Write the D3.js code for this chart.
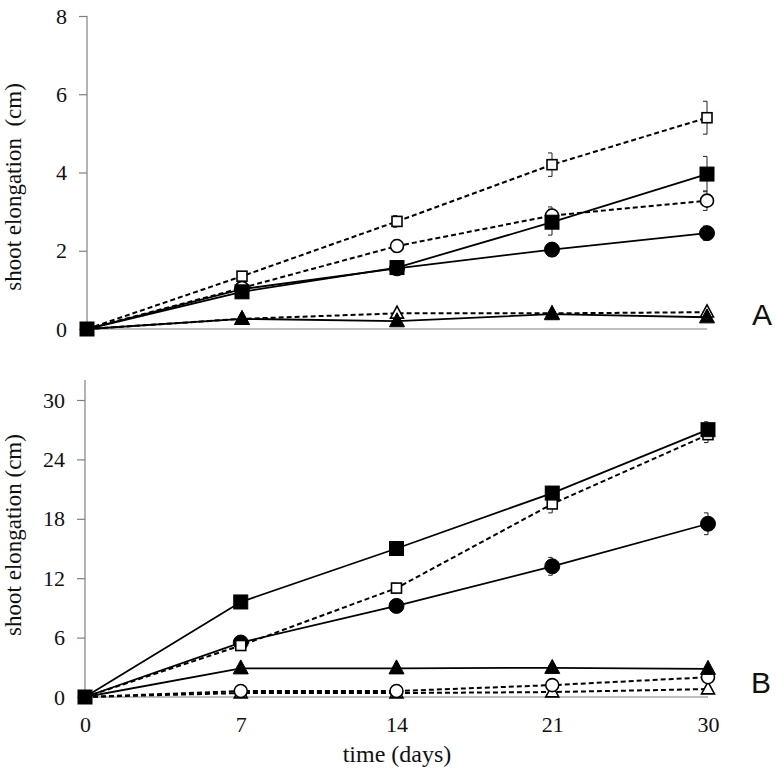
<!DOCTYPE html>
<html><head><meta charset="utf-8">
<script src="https://cdn.jsdelivr.net/npm/d3@7"></script>
<style>body{margin:0;background:#fff}svg{display:block}</style>
</head><body>
<script>
// ---- data ----
const days = ["0","7","14","21","30"];
const ticksA = [0,2,4,6,8];
const ticksB = [0,6,12,18,24,30];

// Panel A
const A_openSquare     = [0,1.35,2.75,4.2,5.4];
const A_openSquareErr  = [0,0.06,0.15,0.3,0.42];
const A_filledSquare   = [0,0.95,1.57,2.73,3.96];
const A_filledSquareErr= [0,0.06,0.15,0.33,0.45];
const A_openCircle     = [0,1.05,2.12,2.9,3.28];
const A_openCircleErr  = [0,0.05,0.15,0.22,0.25];
const A_filledCircle   = [0,1.02,1.55,2.03,2.45];
const A_filledCircleErr= [0,0.05,0.12,0.15,0.18];
const A_filledTriangle = [0,0.26,0.2,0.38,0.3];
const A_openTriangle   = [0,0.26,0.4,0.4,0.43];

// Panel B
const B_filledSquare   = [0,9.6,15.0,20.6,27.0];
const B_filledSquareErr= [0,0.3,0.4,0.5,0.8];
const B_openSquare     = [0,5.2,11.0,19.5,26.5];
const B_openSquareErr  = [0,0.3,0.5,0.9,0.8];
const B_filledCircle   = [0,5.5,9.2,13.2,17.5];
const B_filledCircleErr= [0,0.3,0.6,0.9,1.1];
const B_filledTriangle = [0,2.9,2.9,2.95,2.85];
const B_filledTriangleErr = [0,0.1,0.1,0.2,0.2];
const B_openCircle     = [0,0.6,0.6,1.2,2.0];
const B_openCircleErr  = [0,0.1,0.1,0.2,0.3];
const B_openTriangle   = [0,0.4,0.4,0.5,0.8];

const seriesA = [
  {v:A_openTriangle, e:null, shape:"triangle", filled:false, dashed:true},
  {v:A_filledTriangle, e:null, shape:"triangle", filled:true, dashed:false},
  {v:A_filledCircle, e:A_filledCircleErr, shape:"circle", filled:true, dashed:false},
  {v:A_openCircle, e:A_openCircleErr, shape:"circle", filled:false, dashed:true},
  {v:A_filledSquare, e:A_filledSquareErr, shape:"square", filled:true, dashed:false},
  {v:A_openSquare, e:A_openSquareErr, shape:"square", filled:false, dashed:true}
];
const seriesB = [
  {v:B_openTriangle, e:null, shape:"triangle", filled:false, dashed:true},
  {v:B_openCircle, e:B_openCircleErr, shape:"circle", filled:false, dashed:true},
  {v:B_filledTriangle, e:B_filledTriangleErr, shape:"triangle", filled:true, dashed:false},
  {v:B_filledCircle, e:B_filledCircleErr, shape:"circle", filled:true, dashed:false},
  {v:B_openSquare, e:B_openSquareErr, shape:"square", filled:false, dashed:true},
  {v:B_filledSquare, e:B_filledSquareErr, shape:"square", filled:true, dashed:false}
];

const svg = d3.select("body").append("svg").attr("width",777).attr("height",778);
const serif = "'Liberation Serif','Times New Roman',serif";

function panel(cfg){
  const x = d3.scalePoint().domain(days).range(cfg.xr).padding(0);
  const y = d3.scaleLinear().domain(cfg.yd).range(cfg.yr);
  const g = svg.append("g");
  // x axis line
  g.append("line").attr("x1",cfg.xr[0]).attr("x2",cfg.xr[1])
    .attr("y1",y(0)).attr("y2",y(0)).attr("stroke","#808080").attr("stroke-width",1.2);
  // y axis
  const ya = g.append("g").attr("transform",`translate(${cfg.xr[0]},0)`)
    .call(d3.axisLeft(y).tickValues(cfg.ticks).tickSize(8).tickPadding(12).tickSizeOuter(0));
  ya.attr("font-family",null).attr("font-size",null);
  ya.select(".domain").remove();
  ya.append("line").attr("x1",0).attr("x2",0).attr("y1",cfg.top).attr("y2",y(0))
    .attr("stroke","#808080").attr("stroke-width",1.2);
  ya.selectAll(".tick line").attr("stroke","#808080").attr("stroke-width",1.2);
  ya.selectAll(".tick text").style("font-family",serif).style("font-size","22px").attr("fill","#111");
  if(cfg.xlabels){
    const xa = g.append("g").attr("transform",`translate(0,${y(0)})`)
      .call(d3.axisBottom(x).tickSize(0).tickPadding(19));
    xa.attr("font-family",null).attr("font-size",null);
    xa.select(".domain").remove();
    xa.selectAll(".tick text").style("font-family",serif).style("font-size","22px").attr("fill","#111");
  }
  // y label
  g.append("text").attr("transform",`translate(${cfg.ylx},${cfg.lyc}) rotate(-90)`)
    .attr("text-anchor","middle").style("font-family",serif).style("font-size","23px")
    .attr("fill","#111").style("white-space","pre").text(cfg.ylabel);
  // panel letter
  g.append("text").attr("x",cfg.letterX).attr("y",cfg.letterY)
    .style("font-family","'Liberation Sans',Arial,sans-serif").style("font-size","30px")
    .attr("fill","#111").text(cfg.letter);

  const line = d3.line().x((d,i)=>x(days[i])).y(d=>y(d));
  // lines
  cfg.series.forEach(s=>{
    g.append("path").attr("d",line(s.v)).attr("fill","none").attr("stroke","#000")
      .attr("stroke-width",s.dashed?2:1.8).attr("stroke-dasharray",s.dashed?"5,3":null);
  });
  // error bars
  cfg.series.forEach(s=>{
    if(!s.e) return;
    s.v.forEach((v,i)=>{
      if(!s.e[i]) return;
      const cx = x(days[i]), y1=y(v+s.e[i]), y2=y(v-s.e[i]);
      const eg = g.append("g").attr("stroke","#333").attr("stroke-width",1.1);
      eg.append("line").attr("x1",cx).attr("x2",cx).attr("y1",y1).attr("y2",y2);
      eg.append("line").attr("x1",cx-4).attr("x2",cx).attr("y1",y1).attr("y2",y1);
      eg.append("line").attr("x1",cx-4).attr("x2",cx).attr("y1",y2).attr("y2",y2);
    });
  });
  // markers
  cfg.series.forEach(s=>{
    s.v.forEach((v,i)=>{
      const cx = x(days[i]), cy = y(v);
      let m;
      if(i===0){
        if(s.shape!=="square"||!s.filled) return;
      }
      if(s.shape==="square"){
        const sz = s.filled?14:10;
        m = g.append("rect").attr("x",cx-sz/2).attr("y",cy-sz/2).attr("width",sz).attr("height",sz);
      } else if(s.shape==="circle"){
        m = g.append("circle").attr("cx",cx).attr("cy",cy).attr("r",s.filled?7.5:6.5);
      } else {
        const w = s.filled?15:13, h = s.filled?14:12;
        m = g.append("path").attr("d",`M${cx},${cy-h*0.6}L${cx+w/2},${cy+h*0.4}L${cx-w/2},${cy+h*0.4}Z`);
      }
      m.attr("fill",s.filled?"#000":"#fff").attr("stroke","#000").attr("stroke-width",s.filled?1:1.6);
    });
  });
}

panel({xr:[87,707], yd:[0,8], yr:[329,16], top:16, ticks:ticksA, series:seriesA,
  xlabels:false, ylabel:"shoot elongation  (cm)", ylx:21, lyc:187, letter:"A", letterX:752, letterY:325});
panel({xr:[85,708], yd:[0,30], yr:[697,400], top:380, ticks:ticksB, series:seriesB,
  xlabels:true, ylabel:"shoot elongation (cm)", ylx:21, lyc:535, letter:"B", letterX:751, letterY:693});

svg.append("text").attr("x",397).attr("y",762).attr("text-anchor","middle")
  .style("font-family",serif).style("font-size","24px").attr("fill","#111").text("time (days)");
</script>
</body></html>
